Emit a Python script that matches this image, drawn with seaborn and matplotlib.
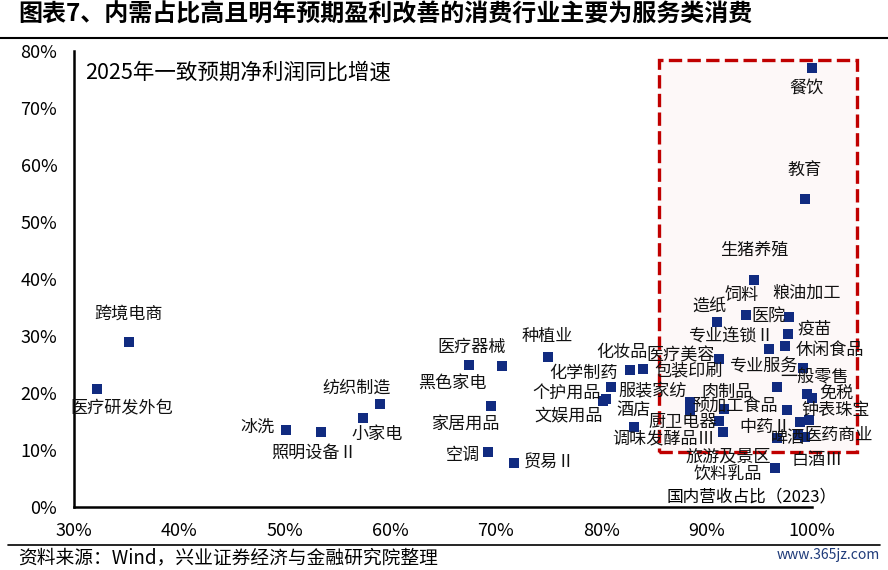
import matplotlib
matplotlib.use("Agg")
import matplotlib.pyplot as plt
import matplotlib.patches as mpatches
import seaborn as sns
import pandas as pd

# ---------------- data ----------------
industries = ["餐饮", "教育", "生猪养殖", "饲料", "粮油加工", "医院", "造纸", "疫苗",
              "专业连锁Ⅱ", "休闲食品", "包装印刷", "医疗美容", "化妆品", "专业服务",
              "一般零售", "免税", "钟表珠宝", "肉制品", "预加工食品", "服装家纺",
              "调味发酵品Ⅲ", "厨卫电器", "旅游及景区", "中药Ⅱ", "啤酒", "医药商业",
              "白酒Ⅲ", "饮料乳品", "酒店", "化学制药", "个护用品", "文娱用品", "种植业",
              "医疗器械", "黑色家电", "家居用品", "空调", "贸易Ⅱ", "纺织制造", "小家电",
              "冰洗", "照明设备Ⅱ", "跨境电商", "医疗研发外包"]
domestic_share = [100.0, 99.3, 94.5, 93.7, 97.8, 97.7, 91.0, 97.4,
                  95.9, 99.1, 91.2, 84.0, 82.7, 96.7,
                  99.5, 100.0, 99.7, 91.7, 97.6, 88.4,
                  88.4, 91.2, 91.6, 96.7, 98.7, 98.9,
                  99.3, 96.5, 83.1, 80.9, 80.5, 80.2, 75.0,
                  70.6, 67.5, 69.6, 69.3, 71.7, 59.0, 57.4,
                  50.1, 53.4, 35.2, 32.2]
profit_growth = [77.1, 54.0, 39.8, 33.6, 33.3, 30.3, 32.5, 28.2,
                 27.8, 24.4, 26.0, 24.2, 24.0, 21.1,
                 19.9, 19.1, 15.3, 17.2, 17.0, 18.5,
                 17.0, 15.1, 13.2, 12.1, 12.6, 15.0,
                 12.3, 6.8, 14.0, 21.0, 18.9, 18.6, 26.3,
                 24.7, 24.9, 17.8, 9.6, 7.8, 18.1, 15.7,
                 13.5, 13.1, 28.9, 20.7]
x_ticks = [30, 40, 50, 60, 70, 80, 90, 100]
y_ticks = [0, 10, 20, 30, 40, 50, 60, 70, 80]

# label placement offsets (pixels) -- layout only
label_offsets = [(-6, -20), (0, 29), (0, 31), (-4, 20), (18, 24), (-19, 17), (-8, 16), (30, 18),
                 (-38, 12), (27, 18), (-31, -13), (37, 14), (-8, 18), (-14, 20),
                 (8, 16), (24, 5), (27, 10), (3, 17), (-52, 3), (-37, 10),
                 (-26, -28), (-37, -1), (5, -25), (-12, 11), (-10, -3), (38, -13),
                 (13, -23), (-47, -7), (0, 17), (-27, 14), (-40, 7), (-35, -14), (-1, 21),
                 (-30, 19), (-17, -18), (-26, -18), (-25, -3), (36, 0), (-23, 16), (14, -16),
                 (-28, 3), (-7, -20), (0, 29), (25, -19)]

df = pd.DataFrame({"industry": industries, "share": domestic_share, "growth": profit_growth})

# ---------------- style ----------------
sns.set_theme(style="white")
plt.rcParams["font.family"] = ["Noto Sans CJK SC", "DejaVu Sans"]

fig = plt.figure(figsize=(8.88, 5.70), dpi=100)
ax = fig.add_axes([74 / 888, 1 - 507 / 570, (812 - 74) / 888, (507 - 51) / 570])

# highlight box
rect = mpatches.Rectangle((85.5, 9.6), 18.8, 68.8, transform=ax.transData,
                          facecolor="#FDF8F8", edgecolor="#C00000", linewidth=2.4,
                          linestyle=(0, (4, 1.6)), clip_on=False, zorder=1)
ax.add_patch(rect)

sns.scatterplot(data=df, x="share", y="growth", marker="s", s=62, color="#112B80",
                linewidth=0, ax=ax, clip_on=False, zorder=3, legend=False)

for name, xv, yv, (dx, dy) in zip(industries, domestic_share, profit_growth, label_offsets):
    ax.annotate(name, (xv, yv), xytext=(dx, dy), textcoords="offset pixels",
                ha="center", va="center", fontsize=12.3, color="#111111", zorder=4,
                annotation_clip=False)

ax.set_xlim(30, 100)
ax.set_ylim(0, 80)
ax.set_xticks(x_ticks)
ax.set_yticks(y_ticks)
ax.set_xticklabels([f"{t}%" for t in x_ticks])
ax.set_yticklabels([f"{t}%" for t in y_ticks])
ax.set_xlabel("")
ax.set_ylabel("")
for s in ["top", "right"]:
    ax.spines[s].set_visible(False)
for s in ["left", "bottom"]:
    ax.spines[s].set_color("black")
    ax.spines[s].set_linewidth(1.8)
ax.tick_params(axis="x", direction="in", length=6, width=1.5, pad=11, labelsize=13, colors="black")
ax.tick_params(axis="y", direction="in", length=4, width=1.5, pad=12, labelsize=13, colors="black")
ax.set_facecolor("none")

fig.text(85 / 888, 1 - 73 / 570, "2025年一致预期净利润同比增速", fontsize=15.5,
         ha="left", va="center", color="black")
fig.text(752 / 888, 1 - 497 / 570, "国内营收占比（2023）", fontsize=12,
         ha="center", va="center", color="black")

# title and frame lines
fig.text(18 / 888, 1 - 15 / 570, "图表7、内需占比高且明年预期盈利改善的消费行业主要为服务类消费",
         fontsize=17.3, fontweight="bold", ha="left", va="center", color="black")
fig.add_artist(plt.Line2D([0.0, 1.0], [1 - 38 / 570, 1 - 38 / 570], color="black", linewidth=1.5))
fig.add_artist(plt.Line2D([8 / 888, 880 / 888], [1 - 545 / 570, 1 - 545 / 570], color="black", linewidth=1.2))
fig.text(18 / 888, 1 - 558 / 570, "资料来源：Wind，兴业证券经济与金融研究院整理",
         fontsize=13.5, ha="left", va="center", color="black")
fig.text(880 / 888, 1 - 555 / 570, "www.365jz.com", fontsize=10,
         ha="right", va="center", color="#1F3B7A")

fig.savefig("out.png", dpi=100)
